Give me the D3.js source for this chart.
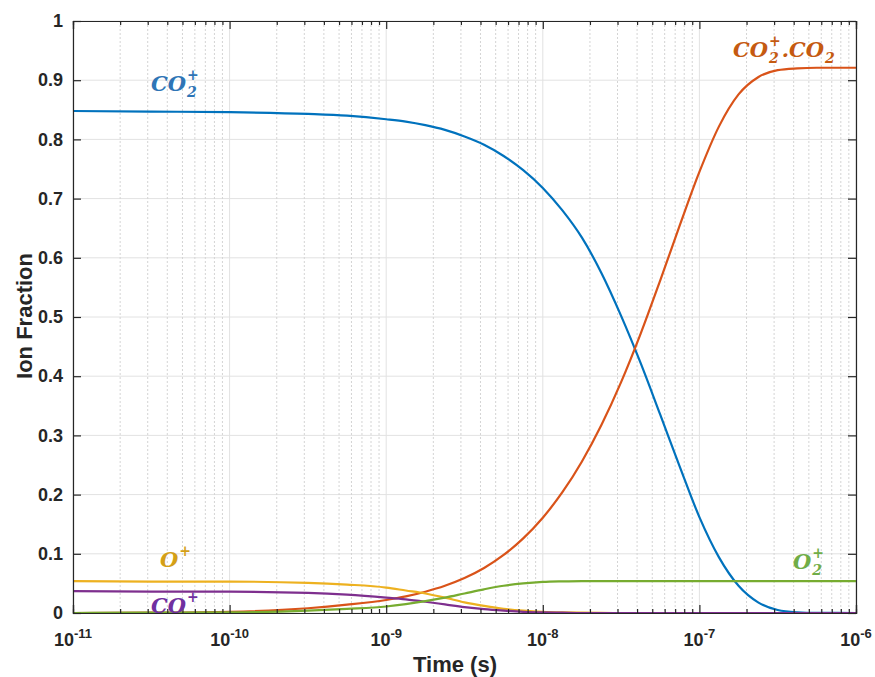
<!DOCTYPE html>
<html>
<head>
<meta charset="utf-8">
<script src="https://cdn.jsdelivr.net/npm/d3@7"></script>
<style>
  body { margin: 0; background: #fff; }
  svg { display: block; }
</style>
</head>
<body>
<svg id="chart" width="875" height="677"></svg>
<script>
// ---------- data ----------
const times = [1e-11, 3.162e-11, 1e-10, 3.162e-10, 5.623e-10,
  1e-9, 1.334e-9, 1.778e-9, 2.371e-9, 3.162e-9, 4.217e-9, 5.623e-9, 7.499e-9,
  1e-8, 1.334e-8, 1.778e-8, 2.371e-8, 3.162e-8, 4.217e-8, 5.623e-8, 7.499e-8,
  1e-7, 1.334e-7, 1.778e-7, 2.371e-7, 3.162e-7, 4.217e-7, 5.623e-7, 1e-6];
const co2p = [0.848, 0.847, 0.846, 0.843, 0.840,
  0.834, 0.830, 0.824, 0.816, 0.805, 0.791, 0.772, 0.748,
  0.718, 0.680, 0.634, 0.574, 0.502, 0.422, 0.335, 0.247,
  0.162, 0.094, 0.046, 0.018, 0.005, 0.0012, 0.0002, 0.0];
const co2pco2 = [0.0, 0.0005, 0.002, 0.008, 0.014,
  0.022, 0.028, 0.036, 0.046, 0.059, 0.076, 0.098, 0.126,
  0.161, 0.204, 0.256, 0.318, 0.390, 0.472, 0.562, 0.655,
  0.745, 0.822, 0.876, 0.905, 0.917, 0.920, 0.921, 0.921];
const op = [0.054, 0.053, 0.053, 0.051, 0.048,
  0.043, 0.038, 0.033, 0.026, 0.018, 0.012, 0.007, 0.004,
  0.002, 0.001, 0.0005, 0.0002, 0, 0, 0, 0,
  0, 0, 0, 0, 0, 0, 0, 0];
const cop = [0.037, 0.036, 0.036, 0.034, 0.031,
  0.026, 0.023, 0.019, 0.0145, 0.010, 0.0065, 0.004, 0.002,
  0.001, 0.0005, 0, 0, 0, 0, 0, 0,
  0, 0, 0, 0, 0, 0, 0, 0];
const o2p = [0.0, 0.0005, 0.001, 0.004, 0.007,
  0.011, 0.015, 0.020, 0.026, 0.033, 0.040, 0.046, 0.050,
  0.0525, 0.0535, 0.054, 0.054, 0.054, 0.054, 0.054, 0.054,
  0.054, 0.054, 0.054, 0.054, 0.054, 0.054, 0.054, 0.054];
const seriesNames = ["CO2+", "CO2+.CO2", "O+", "CO+", "O2+"];
const yTickValues = [0, 0.1, 0.2, 0.3, 0.4, 0.5, 0.6, 0.7, 0.8, 0.9, 1];
const xDecades = [1e-11, 1e-10, 1e-9, 1e-8, 1e-7, 1e-6];
const xDecadeExps = ["-11", "-10", "-9", "-8", "-7", "-6"];
const xTitle = "Time (s)";
const yTitle = "Ion Fraction";

// ---------- layout ----------
const L = 73, R = 856, T = 21, B = 613;
const lineColors = ["#0072BD", "#D95319", "#EDB120", "#7E2F8E", "#77AC30"];
const seriesVals = [co2p, co2pco2, op, cop, o2p];

const svg = d3.select("#chart");
const x = d3.scaleLog().domain([1e-11, 1e-6]).range([L, R]);
const y = d3.scaleLinear().domain([0, 1]).range([B, T]);

const minorTicks = [];
xDecades.slice(0, -1).forEach(d => { for (let m = 2; m <= 9; m++) minorTicks.push(d * m); });

// grid
const grid = svg.append("g");
grid.selectAll(".gy").data(yTickValues).join("line")
  .attr("x1", L).attr("x2", R).attr("y1", d => y(d)).attr("y2", d => y(d))
  .attr("stroke", "#e2e2e2").attr("stroke-width", 1);
grid.selectAll(".gxm").data(minorTicks).join("line")
  .attr("y1", T).attr("y2", B).attr("x1", d => x(d)).attr("x2", d => x(d))
  .attr("stroke", "#d4d4d4").attr("stroke-width", 1).attr("stroke-dasharray", "2,2");
grid.selectAll(".gx").data(xDecades).join("line")
  .attr("y1", T).attr("y2", B).attr("x1", d => x(d)).attr("x2", d => x(d))
  .attr("stroke", "#e2e2e2").attr("stroke-width", 1);

// lines
const line = d3.line().x(d => x(d[0])).y(d => y(d[1])).curve(d3.curveMonotoneX);
seriesVals.forEach((vals, i) => {
  svg.append("path")
    .datum(times.map((t, j) => [t, vals[j]]))
    .attr("d", line)
    .attr("fill", "none")
    .attr("stroke", lineColors[i])
    .attr("stroke-width", 2.2)
    .attr("stroke-linejoin", "round");
});

// axes
const axisColor = "#262626";
const sansFont = "Liberation Sans, Arial, Helvetica, sans-serif";
function styleAxis(g) {
  g.select(".domain").attr("stroke", axisColor).attr("stroke-width", 1.2);
  g.selectAll(".tick line").attr("stroke", axisColor).attr("stroke-width", 1.2);
  g.selectAll(".tick text").attr("fill", axisColor)
    .attr("font-family", sansFont)
    .attr("font-weight", "bold").attr("font-size", "18px");
}
svg.append("g").attr("transform", `translate(${L},0)`)
  .call(d3.axisLeft(y).tickValues(yTickValues).tickSize(-8).tickPadding(10)
    .tickFormat(d => String(+d.toFixed(1))))
  .call(styleAxis);
svg.append("g").attr("transform", `translate(${R},0)`)
  .call(d3.axisRight(y).tickValues(yTickValues).tickSize(-8).tickFormat(""))
  .call(styleAxis);
svg.append("g").attr("transform", `translate(0,${B})`)
  .call(d3.axisBottom(x).tickValues(xDecades).tickSize(-8).tickFormat(""))
  .call(styleAxis);
svg.append("g").attr("transform", `translate(0,${B})`)
  .call(d3.axisBottom(x).tickValues(minorTicks).tickSize(-4).tickFormat(""))
  .call(styleAxis);
svg.append("g").attr("transform", `translate(0,${T})`)
  .call(d3.axisTop(x).tickValues(xDecades).tickSize(-8).tickFormat(""))
  .call(styleAxis);
svg.append("g").attr("transform", `translate(0,${T})`)
  .call(d3.axisTop(x).tickValues(minorTicks).tickSize(-4).tickFormat(""))
  .call(styleAxis);

// x tick labels 10^n
const xl = svg.append("g");
xDecades.forEach((d, i) => {
  const t = xl.append("text")
    .attr("x", x(d)).attr("y", 646)
    .attr("text-anchor", "middle")
    .attr("fill", axisColor)
    .attr("font-family", sansFont)
    .attr("font-weight", "bold").attr("font-size", "18px");
  t.append("tspan").text("10");
  t.append("tspan").attr("dy", -8).attr("font-size", "13px").text(xDecadeExps[i]);
});

// titles
svg.append("text")
  .attr("x", 455).attr("y", 672).attr("text-anchor", "middle")
  .attr("fill", axisColor)
  .attr("font-family", sansFont)
  .attr("font-weight", "bold").attr("font-size", "22px")
  .text(xTitle);
svg.append("text")
  .attr("transform", "translate(32,316) rotate(-90)")
  .attr("text-anchor", "middle")
  .attr("fill", axisColor)
  .attr("font-family", sansFont)
  .attr("font-weight", "bold").attr("font-size", "22px")
  .text(yTitle);

// chemical labels
function chem(x0, y0, segs, color) {
  let cx = x0;
  const g = svg.append("g")
    .attr("font-family", "DejaVu Serif, Liberation Serif, serif")
    .attr("font-weight", "bold").attr("font-style", "italic").attr("fill", color);
  segs.forEach(s => {
    const t = g.append("text").attr("x", cx).attr("y", y0).attr("font-size", "21px").text(s.b);
    cx += t.node().getComputedTextLength();
    let w = 0;
    if (s.sub) {
      const st = g.append("text").attr("x", cx + 1).attr("y", y0 + 6).attr("font-size", "14px").text(s.sub);
      w = Math.max(w, st.node().getComputedTextLength() + 2);
    }
    if (s.sup) {
      const st = g.append("text").attr("x", cx + 1).attr("y", y0 - 11).attr("font-size", "14px").text(s.sup);
      w = Math.max(w, st.node().getComputedTextLength() + 2);
    }
    cx += w;
  });
}
chem(151, 91, [{ b: "CO", sub: "2", sup: "+" }], "#2E75B6");
chem(733, 57, [{ b: "CO", sub: "2", sup: "+" }, { b: "." }, { b: "CO", sub: "2" }], "#C55A11");
chem(160, 567, [{ b: "O", sup: "+" }], "#D4A017");
chem(151, 613, [{ b: "CO", sup: "+" }], "#7030A0");
chem(793, 569, [{ b: "O", sub: "2", sup: "+" }], "#70AD47");
</script>
</body>
</html>
